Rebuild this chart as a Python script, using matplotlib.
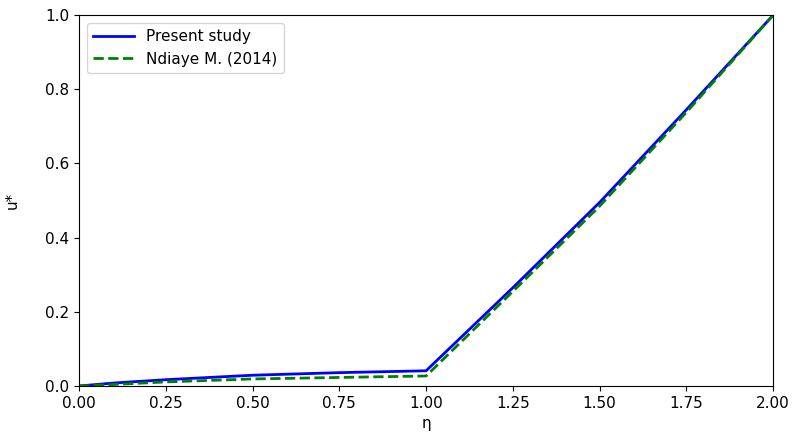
import matplotlib
matplotlib.use("Agg")
import matplotlib.pyplot as plt

eta_present = [0.0, 0.1, 0.25, 0.5, 0.75, 1.0, 1.25, 1.5, 1.75, 2.0]
u_present = [0.0, 0.008, 0.017, 0.029, 0.036, 0.041, 0.265, 0.495, 0.745, 1.0]

eta_ndiaye = [0.0, 0.1, 0.25, 0.5, 0.75, 1.0, 1.25, 1.5, 1.75, 2.0]
u_ndiaye = [0.0, 0.004, 0.011, 0.019, 0.023, 0.027, 0.255, 0.485, 0.738, 1.0]

plt.rcParams['font.size'] = 11
fig = plt.figure(figsize=(7.93, 4.32), dpi=100)
ax = fig.add_axes([0.0996, 0.1065, 0.8754, 0.8585])
ax.plot(eta_present, u_present, color="blue", lw=2, label="Present study")
ax.plot(eta_ndiaye, u_ndiaye, color="green", lw=2, ls="--", label="Ndiaye M. (2014)")
ax.set_xlim(0, 2)
ax.set_ylim(0, 1)
ax.set_xlabel("η")
ax.set_ylabel("u*")
ax.yaxis.set_label_coords(-0.085, 0.5)
ax.legend(loc="upper left", handlelength=2.7)
fig.savefig("out.png", dpi=100)
